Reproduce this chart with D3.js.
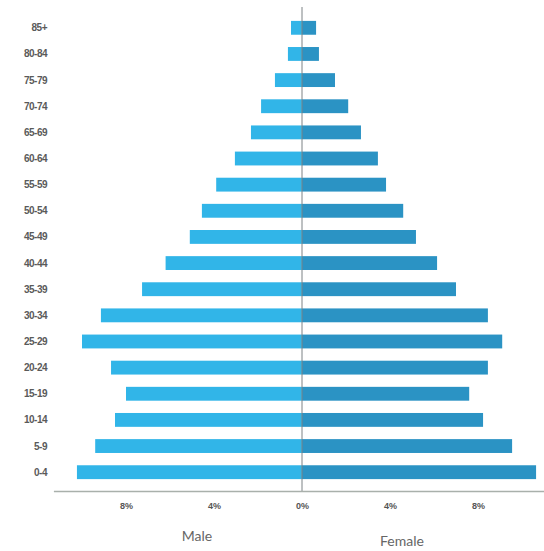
<!DOCTYPE html>
<html>
<head>
<meta charset="utf-8">
<script src="https://cdn.jsdelivr.net/npm/d3@7"></script>
<style>
  body { margin: 0; background: #fff; }
  svg { display: block; }
</style>
</head>
<body>
<div id="pyramid"></div>
<script>
// age groups, top to bottom
var ageGroups = ["85+","80-84","75-79","70-74","65-69","60-64","55-59","50-54","45-49",
                 "40-44","35-39","30-34","25-29","20-24","15-19","10-14","5-9","0-4"];
// share of population in percent
var maleValues   = [0.5, 0.64, 1.23, 1.86, 2.32, 3.05, 3.9, 4.55, 5.1,
                    6.2, 7.27, 9.14, 10.0, 8.68, 8.0, 8.5, 9.4, 10.23];
var femaleValues = [0.64, 0.77, 1.5, 2.1, 2.68, 3.45, 3.82, 4.6, 5.18,
                    6.14, 7.0, 8.45, 9.1, 8.45, 7.6, 8.23, 9.55, 10.64];
var tickValues = [-8, -4, 0, 4, 8];
var sideLabels = ["Male", "Female"];

var colors = { male: "#31b5e8", female: "#2b93c4" };

drawPyramid();

function drawPyramid(){
    var width = 544, height = 551;

    var svg = d3.select("#pyramid")
        .append("svg").attr("width", width).attr("height", height);

    // x: negative = male, positive = female
    var x = d3.scaleLinear()
        .domain([-11.3, 11.3])
        .range([53.4, 550.6]);

    var y = d3.scaleBand()
        .domain(ageGroups)
        .range([8.6, 491.4])
        .padding(0.47);

    // male bars
    svg.selectAll(".male").data(ageGroups).enter().append("rect")
        .attr("class", "male")
        .attr("x", function(d, i){ return x(-maleValues[i]); })
        .attr("y", function(d){ return y(d); })
        .attr("width", function(d, i){ return x(0) - x(-maleValues[i]); })
        .attr("height", y.bandwidth())
        .attr("fill", colors.male);

    // female bars
    svg.selectAll(".female").data(ageGroups).enter().append("rect")
        .attr("class", "female")
        .attr("x", x(0))
        .attr("y", function(d){ return y(d); })
        .attr("width", function(d, i){ return x(femaleValues[i]) - x(0); })
        .attr("height", y.bandwidth())
        .attr("fill", colors.female);

    // center line
    svg.append("line")
        .attr("x1", x(0)).attr("x2", x(0))
        .attr("y1", 7).attr("y2", 491)
        .attr("stroke", "#7d8285")
        .attr("stroke-width", 1);

    // age labels
    svg.selectAll(".age").data(ageGroups).enter().append("text")
        .attr("class", "age")
        .attr("x", 47)
        .attr("y", function(d){ return y(d) + y.bandwidth() / 2; })
        .attr("dy", "0.35em")
        .attr("text-anchor", "end")
        .attr("font-family", "Liberation Sans, Arial, sans-serif")
        .attr("font-size", "10px")
        .attr("font-weight", "bold")
        .attr("fill", "#5a5a5a")
        .attr("letter-spacing", "-0.5px")
        .text(function(d){ return d; });

    // bottom axis
    var axis = svg.append("g")
        .attr("transform", "translate(0," + 491 + ")")
        .call(d3.axisBottom(x)
            .tickValues(tickValues)
            .tickSize(0)
            .tickPadding(12)
            .tickFormat(function(d){ return Math.abs(d) + "%"; }));
    axis.select(".domain").attr("stroke", "#a9b0ab").attr("stroke-width", 1.5);
    axis.selectAll("text")
        .attr("font-family", "Liberation Sans, Arial, sans-serif")
        .attr("font-size", "9px")
        .attr("font-weight", "bold")
        .attr("fill", "#555");

    // side titles
    svg.selectAll(".side").data(sideLabels).enter().append("text")
        .attr("class", "side")
        .attr("x", function(d, i){ return i === 0 ? 197 : 402; })
        .attr("y", function(d, i){ return i === 0 ? 541 : 546; })
        .attr("text-anchor", "middle")
        .attr("font-family", "Lato, sans-serif")
        .attr("font-size", "14px")
        .attr("fill", "#666")
        .text(function(d){ return d; });
}
</script>
</body>
</html>
